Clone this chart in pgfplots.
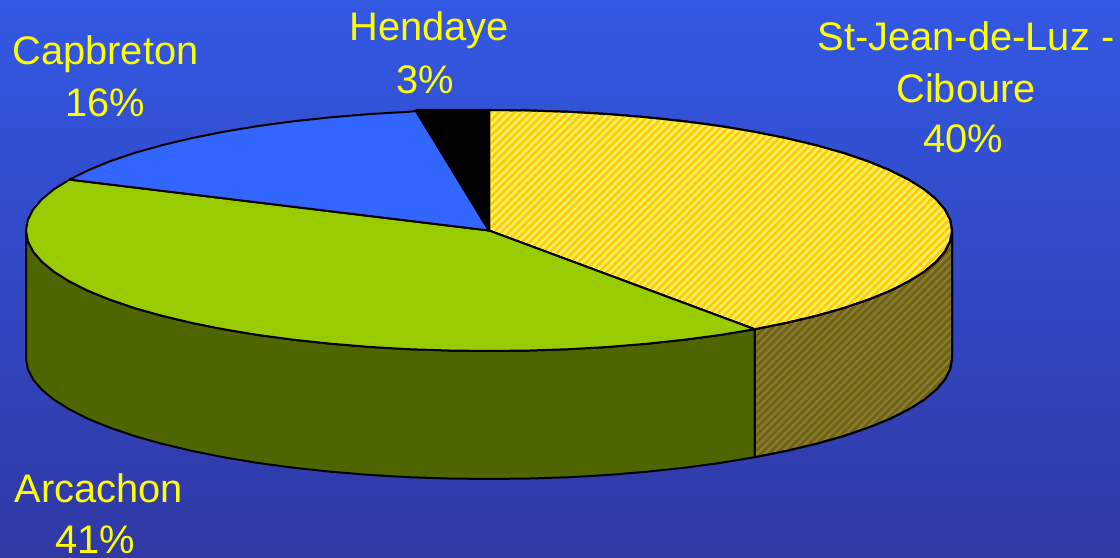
\documentclass[border=0pt]{standalone}
\usepackage{pgfplots}
\pgfplotsset{compat=1.18}
\usepackage{fontspec}
\setmainfont{Liberation Sans}
\usetikzlibrary{patterns.meta}
\definecolor{bgtop}{HTML}{3358E4}
\definecolor{bgbot}{HTML}{3038A4}
\definecolor{ylight}{HTML}{FFF066}
\definecolor{ydark}{HTML}{FFCC00}
\definecolor{slight}{HTML}{857A38}
\definecolor{sdark}{HTML}{6F6208}
\definecolor{wallg}{HTML}{4D6600}
\definecolor{topg}{HTML}{99CC00}
\definecolor{topb}{HTML}{3366FF}
\definecolor{lab}{HTML}{FFFF00}
\newcommand{\lbl}[3]{\node[anchor=base,text=lab,font=\fontsize{40}{40}\selectfont,inner sep=0pt] at (axis cs:#1,#2) {#3};}
\begin{document}
\begin{tikzpicture}
\begin{axis}[
  width=1120bp,height=558bp,scale only axis,
  xmin=0,xmax=1120,ymin=0,ymax=558,y dir=reverse,
  hide axis,
  every axis plot/.append style={line join=round,line width=2bp,draw=black,mark=none},
]
% background
\addplot[draw=none,top color=bgtop,bottom color=bgbot] coordinates {(0,0) (1120,0) (1120,558) (0,558)} --cycle;
% wall of St-Jean-de-Luz - Ciboure
\addplot[fill=slight,postaction={pattern={Lines[angle=45,distance=5.4bp,line width=2.6bp]},pattern color=sdark}] coordinates {
(952,230.5)(950.2,241)(945,251.4)(936.2,261.7)(924.1,271.7)(908.6,281.4)(890,290.8)(868.3,299.6)(843.7,308)(816.4,315.7)(786.6,322.8)(754.6,329.2)
(754.6,457.2)(786.6,450.8)(816.4,443.7)(843.7,436)(868.3,427.6)(890,418.8)(908.6,409.4)(924.1,399.7)(936.2,389.7)(945,379.4)(950.2,369)(952,358.5)} --cycle;
% wall of Arcachon
\addplot[fill=wallg] coordinates {
(754.6,329.2)(720.5,334.9)(684.7,339.7)(647.3,343.7)(608.8,346.9)(569.4,349.2)(529.4,350.5)(489,351)(448.6,350.5)(408.6,349.2)(369.2,346.9)(330.7,343.7)(293.3,339.7)(257.5,334.9)(223.4,329.2)(191.4,322.8)(161.6,315.7)(134.3,308)(109.7,299.6)(88,290.8)(69.4,281.4)(53.9,271.7)(41.8,261.7)(33,251.4)(27.8,241)(26,230.5)
(26,358.5)(27.8,369)(33,379.4)(41.8,389.7)(53.9,399.7)(69.4,409.4)(88,418.8)(109.7,427.6)(134.3,436)(161.6,443.7)(191.4,450.8)(223.4,457.2)(257.5,462.9)(293.3,467.7)(330.7,471.7)(369.2,474.9)(408.6,477.2)(448.6,478.5)(489,479)(529.4,478.5)(569.4,477.2)(608.8,474.9)(647.3,471.7)(684.7,467.7)(720.5,462.9)(754.6,457.2)} --cycle;
% top: St-Jean-de-Luz - Ciboure 40%
\addplot[fill=ylight,postaction={pattern={Lines[angle=45,distance=5.4bp,line width=2.6bp]},pattern color=ydark}] coordinates {
(489,230.5)(489,110)(529.4,110.5)(569.4,111.8)(608.8,114.1)(647.3,117.3)(684.7,121.3)(720.5,126.1)(754.6,131.8)(786.6,138.2)(816.4,145.3)(843.7,153)(868.3,161.4)(890,170.3)(908.6,179.6)(924.1,189.3)(936.2,199.3)(945,209.6)(950.2,220)(952,230.5)(950.2,241)(945,251.4)(936.2,261.7)(924.1,271.7)(908.6,281.4)(890,290.8)(868.3,299.6)(843.7,308)(816.4,315.7)(786.6,322.8)(754.6,329.2)} --cycle;
% top: Arcachon 41%
\addplot[fill=topg] coordinates {
(489,230.5)(754.6,329.2)(720.5,334.9)(684.7,339.7)(647.3,343.7)(608.8,346.9)(569.4,349.2)(529.4,350.5)(489,351)(448.6,350.5)(408.6,349.2)(369.2,346.9)(330.7,343.7)(293.3,339.7)(257.5,334.9)(223.4,329.2)(191.4,322.8)(161.6,315.7)(134.3,308)(109.7,299.6)(88,290.8)(69.4,281.4)(53.9,271.7)(41.8,261.7)(33,251.4)(27.8,241)(26,230.5)(27.8,220)(33,209.6)(41.8,199.3)(53.9,189.3)(69.4,179.6)} --cycle;
% top: Capbreton 16%
\addplot[fill=topb] coordinates {
(489,230.5)(69.4,179.6)(88,170.3)(109.7,161.4)(134.3,153)(161.6,145.3)(191.4,138.2)(223.4,131.8)(257.5,126.1)(293.3,121.3)(330.7,117.3)(369.2,114.1)(408.6,111.8)(416,111)} --cycle;
% top: Hendaye 3%
\addplot[fill=black] coordinates {(489,230.5)(416,111)(416,110)(489,110)} --cycle;
\lbl{105.5}{64.5}{Capbreton}
\lbl{105}{116.5}{16\%}
\lbl{429}{40.5}{Hendaye}
\lbl{425}{93.5}{3\%}
\lbl{966}{51}{St-Jean-de-Luz -}
\lbl{966}{102.5}{Ciboure}
\lbl{963}{152.5}{40\%}
\lbl{99}{502}{Arcachon}
\lbl{95}{553}{41\%}
\end{axis}
\end{tikzpicture}
\end{document}
